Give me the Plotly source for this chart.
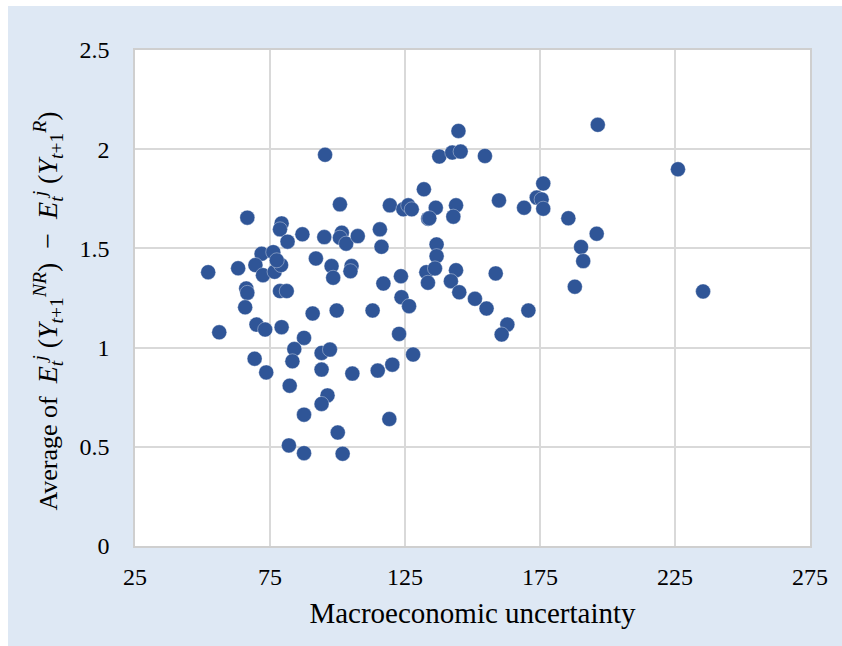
import plotly.graph_objects as go

uncertainty = [
    52.1, 56.2, 63.2, 66.6, 66.2, 66.6, 65.8, 70.0, 73.2, 69.3,
    73.6, 79.3, 71.9, 76.2, 69.6, 72.4, 76.7, 79.1, 77.5, 78.7,
    81.2, 79.3, 78.7, 81.5, 87.0, 95.1, 95.4, 100.9, 101.6, 100.9,
    103.2, 107.5, 92.0, 97.8, 98.4, 105.2, 104.8, 90.8, 99.7, 113.0,
    115.7, 116.3, 117.0, 119.4, 124.4, 126.2, 127.5, 132.0, 133.6, 123.5,
    123.7, 126.5, 132.9, 133.5, 122.8, 128.0, 87.6, 84.0, 83.3, 94.1,
    97.2, 94.1, 105.5, 114.9, 120.3, 82.3, 96.3, 94.1, 87.6, 119.2,
    100.1, 82.0, 87.6, 101.9, 144.8, 137.7, 142.5, 145.6, 154.6, 196.4,
    136.4, 134.0, 143.9, 142.9, 159.8, 169.1, 176.2, 173.8, 175.6, 176.2,
    185.5, 196.0, 190.2, 191.0, 187.9, 136.7, 136.7, 136.1, 143.9, 142.0,
    145.1, 158.6, 150.9, 155.2, 170.7, 162.9, 160.8, 226.1, 235.4,
]
avg_diff = [
    1.380, 1.077, 1.400, 1.655, 1.298, 1.276, 1.203, 1.116, 1.091, 0.944,
    0.875, 1.103, 1.473, 1.481, 1.416, 1.365, 1.382, 1.416, 1.440, 1.285,
    1.285, 1.626, 1.596, 1.534, 1.571, 1.557, 1.972, 1.722, 1.579, 1.554,
    1.524, 1.562, 1.449, 1.411, 1.352, 1.411, 1.385, 1.172, 1.187, 1.187,
    1.596, 1.508, 1.323, 1.717, 1.697, 1.717, 1.697, 1.798, 1.650, 1.360,
    1.254, 1.209, 1.380, 1.327, 1.069, 0.965, 1.049, 0.993, 0.931, 0.973,
    0.990, 0.889, 0.869, 0.884, 0.914, 0.808, 0.759, 0.716, 0.662, 0.640,
    0.572, 0.507, 0.468, 0.465, 2.092, 1.963, 1.983, 1.988, 1.966, 2.123,
    1.705, 1.652, 1.717, 1.660, 1.742, 1.705, 1.827, 1.756, 1.747, 1.700,
    1.652, 1.574, 1.507, 1.436, 1.307, 1.520, 1.461, 1.399, 1.390, 1.335,
    1.279, 1.374, 1.246, 1.197, 1.187, 1.116, 1.066, 1.899, 1.283,
]

x_ticks = [25, 75, 125, 175, 225, 275]
y_ticks = [0, 0.5, 1, 1.5, 2, 2.5]
y_tick_text = ["0", "0.5", "1", "1.5", "2", "2.5"]

x_title = "Macroeconomic uncertainty"
y_title = ("Average of  <span style=\"font-size:28px\"><i>E</i><sub><i>t</i></sub><sup><i>j</i></sup> ("
           "<i>Y</i><sub><i>t</i>+1</sub><sup><i>NR</i></sup>)  −  <i>E</i><sub><i>t</i></sub>"
           "<sup><i>j</i></sup> (<i>Y</i><sub><i>t</i>+1</sub><sup><i>R</i></sup>)</span>"
           "&nbsp;&nbsp;&nbsp;&nbsp;")

FONT = "Liberation Serif"
BG = "#dee8f4"
GRID = "#d9d9d9"

fig = go.Figure()
fig.add_trace(go.Scatter(
    x=uncertainty, y=avg_diff, mode="markers",
    marker=dict(color="#2f5597", size=15, line=dict(color="rgba(255,255,255,0.6)", width=0.6)),
    showlegend=False, hoverinfo="x+y",
))

fig.update_layout(
    width=834, height=640,
    margin=dict(l=127, r=32, t=44, b=100),
    paper_bgcolor=BG, plot_bgcolor="white",
    font=dict(family=FONT, color="black", size=24),
)
fig.update_xaxes(
    range=[25, 275], tickvals=x_ticks, showgrid=True, gridcolor=GRID, gridwidth=1.5,
    showline=True, linecolor="#cfcfcf", linewidth=1.5, mirror=True, zeroline=False,
    ticks="", ticklabelstandoff=8, tickfont=dict(size=24, family=FONT),
    title=dict(text=x_title, font=dict(size=29, family=FONT), standoff=14),
)
fig.update_yaxes(
    range=[0, 2.5], tickvals=y_ticks, ticktext=y_tick_text, showgrid=True, gridcolor=GRID,
    gridwidth=1.5, showline=True, linecolor="#cfcfcf", linewidth=1.5, mirror=True,
    zeroline=False, ticks="", ticklabelstandoff=19, tickfont=dict(size=24, family=FONT),
    title=dict(text=y_title, font=dict(size=26, family=FONT), standoff=14),
)

fig.write_html("out.html",
               post_script="document.body.style.margin='6px 0 0 8px';document.body.style.overflow='hidden';")
